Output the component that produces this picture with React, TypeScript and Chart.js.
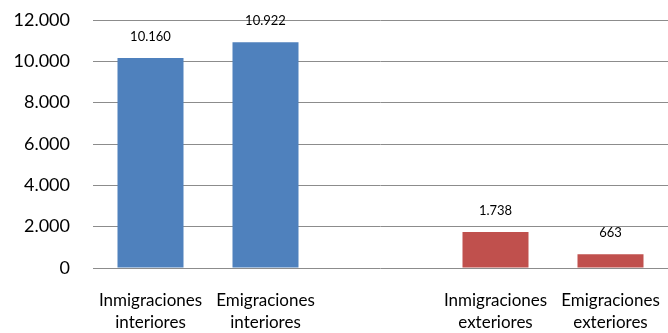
import React, { useEffect, useRef } from "react";
import { Chart, registerables } from "chart.js";

Chart.register(...registerables);

const categories: string[][] = [
  ["Inmigraciones", "interiores"],
  ["Emigraciones", "interiores"],
  ["", ""],
  ["Inmigraciones", "exteriores"],
  ["Emigraciones", "exteriores"],
];
const values: (number | null)[] = [10160, 10922, null, 1738, 663];
const barColors = ["#4F81BD", "#4F81BD", "#4F81BD", "#C0504D", "#C0504D"];
const yMax = 12000;
const yStep = 2000;

const fmt = (v: number) => String(Math.round(v)).replace(/\B(?=(\d{3})+(?!\d))/g, ".");
const FONT = "Lato, 'Open Sans', sans-serif";

const labelPlugin = {
  id: "valueLabels",
  afterDatasetsDraw(chart: any) {
    const ctx = chart.ctx;
    const meta = chart.getDatasetMeta(0);
    ctx.save();
    ctx.font = `13px ${FONT}`;
    ctx.fillStyle = "#000";
    ctx.textAlign = "center";
    ctx.textBaseline = "middle";
    meta.data.forEach((bar: any, i: number) => {
      const v = values[i];
      if (v == null) return;
      ctx.fillText(fmt(v), bar.x, bar.y - 21);
    });
    ctx.restore();
  },
};

export default function App() {
  const ref = useRef<HTMLCanvasElement>(null);
  useEffect(() => {
    if (!ref.current) return;
    const chart = new Chart(ref.current, {
      type: "bar",
      data: {
        labels: categories,
        datasets: [
          {
            data: values,
            backgroundColor: barColors,
            barPercentage: 0.574,
            categoryPercentage: 1,
          },
        ],
      },
      options: {
        animation: false,
        responsive: false,
        maintainAspectRatio: false,
        layout: { autoPadding: false, padding: { top: 20, right: 0, left: 0, bottom: 0 } },
        plugins: { legend: { display: false }, tooltip: { enabled: false } },
        scales: {
          x: {
            grid: { display: false, drawTicks: false },
            border: { display: false },
            ticks: {
              color: "#000",
              font: { family: FONT, size: 17, lineHeight: 1.3 },
              padding: 21,
              maxRotation: 0,
              autoSkip: false,
            },
            afterFit: (s: any) => {
              s.height = 65;
              s.paddingLeft = 0;
              s.paddingRight = 0;
            },
          },
          y: {
            min: 0,
            max: yMax,
            grid: { color: "#8c8c8c", lineWidth: 1, drawTicks: false },
            border: { display: false },
            ticks: {
              stepSize: yStep,
              color: "#000",
              font: { family: FONT, size: 18 },
              padding: 23,
              callback: (v: any) => fmt(Number(v)),
            },
            afterFit: (s: any) => {
              s.width = 93;
              s.paddingTop = 0;
              s.paddingBottom = 0;
            },
          },
        },
      },
      plugins: [labelPlugin],
    });
    return () => chart.destroy();
  }, []);
  return (
    <div style={{ position: "fixed", left: 0, top: 0, width: 668, height: 333, background: "#fff" }}>
      <canvas ref={ref} width={668} height={333} />
    </div>
  );
}
